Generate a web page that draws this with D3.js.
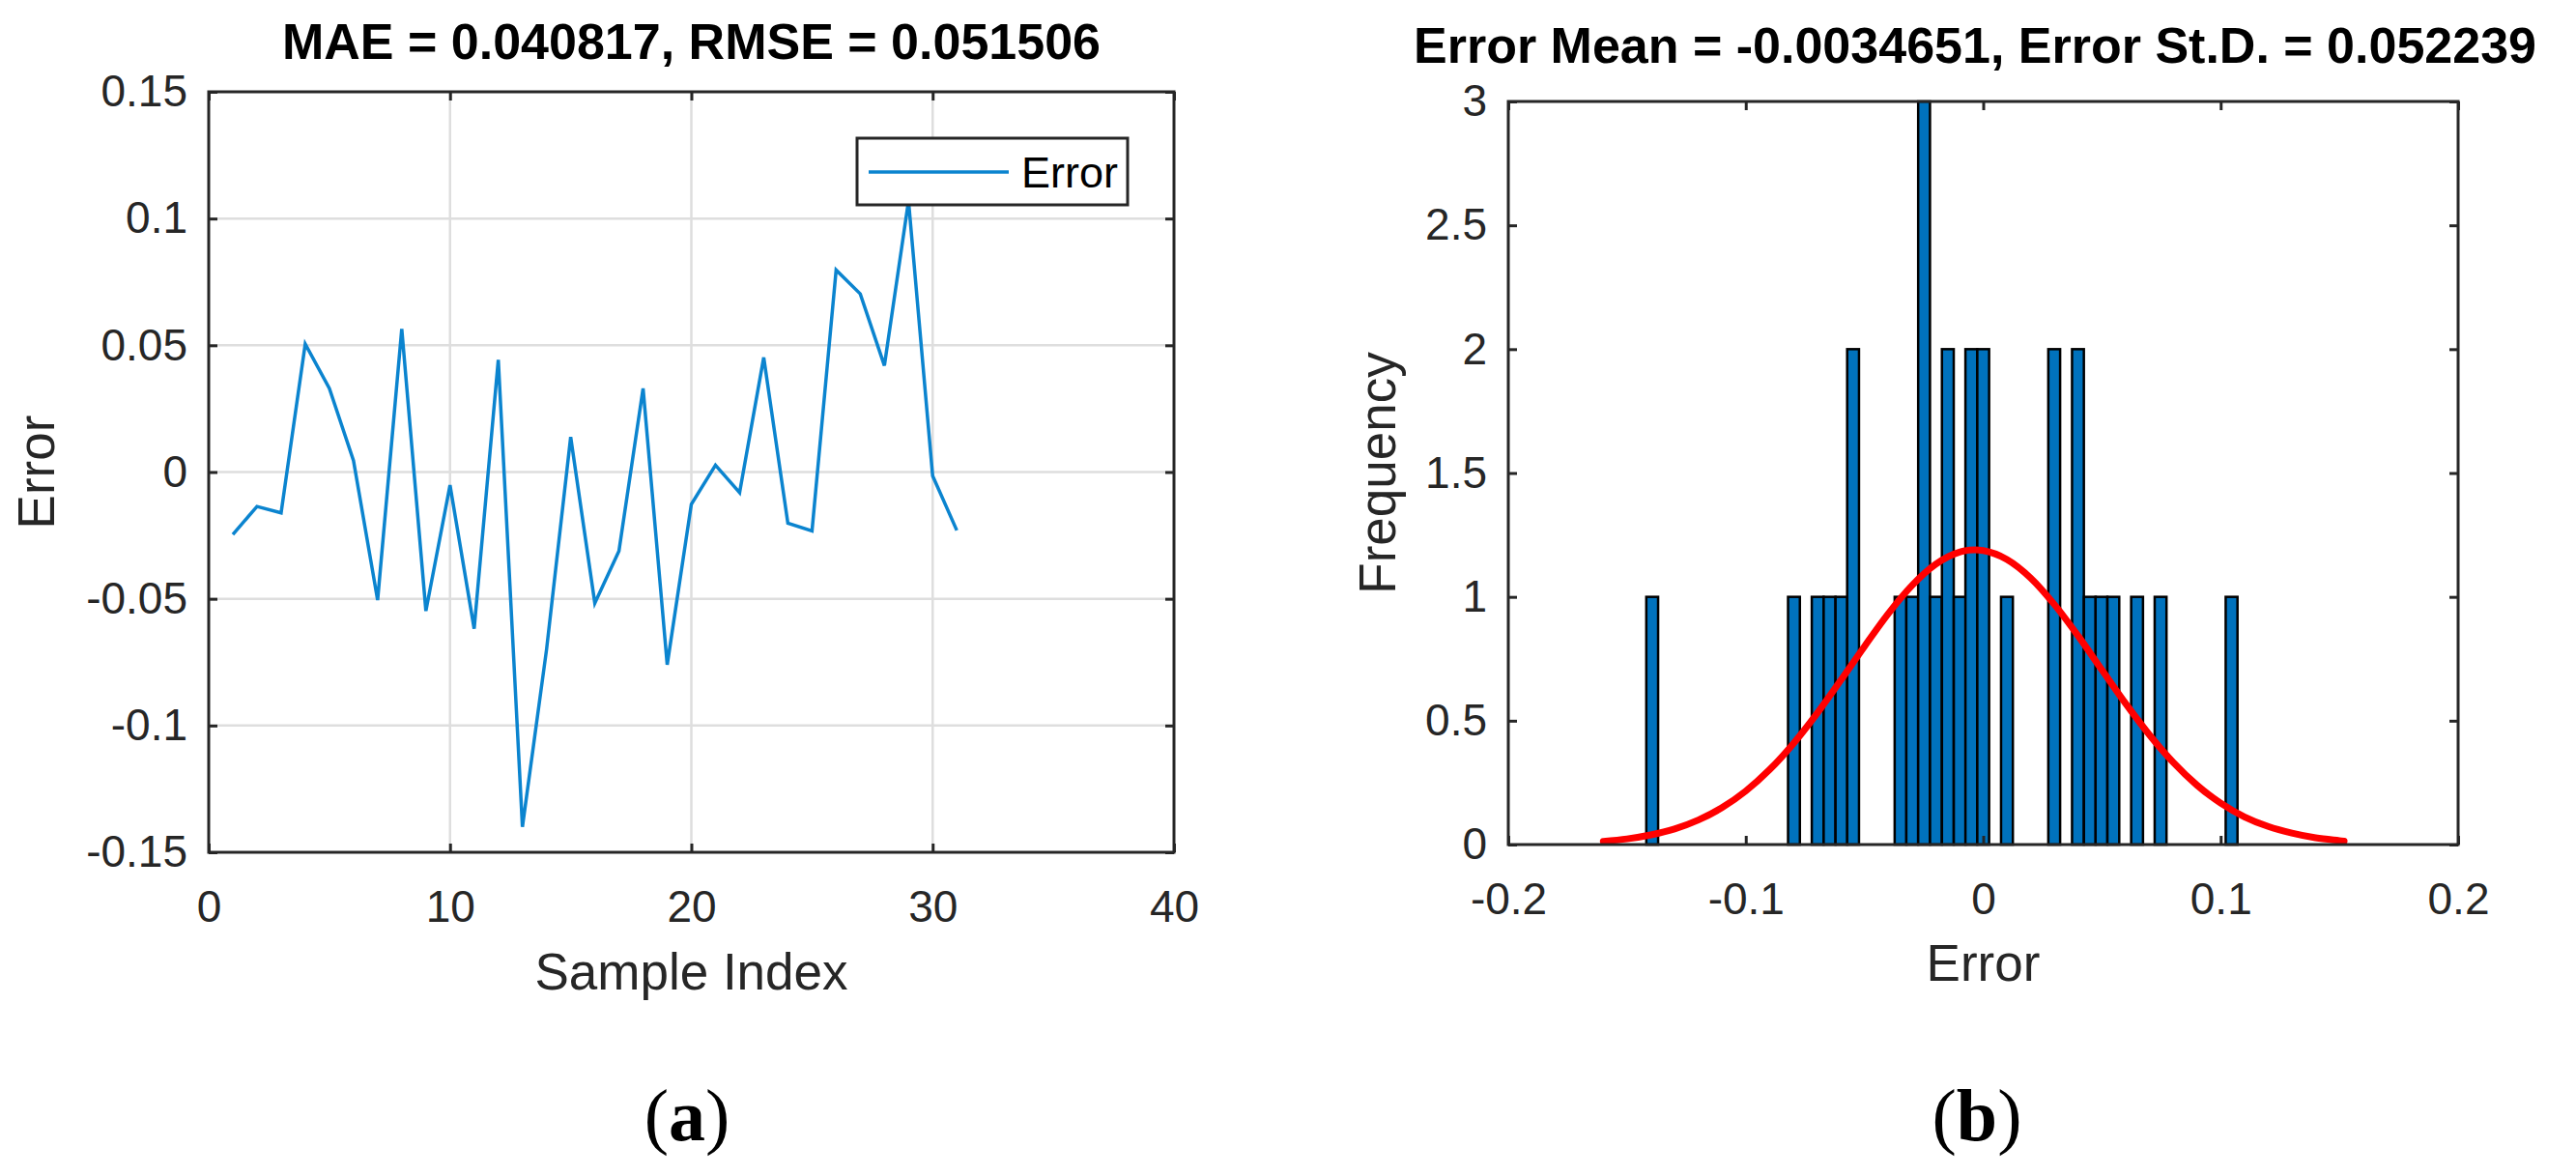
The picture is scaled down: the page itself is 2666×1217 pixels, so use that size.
<!DOCTYPE html>
<html>
<head>
<meta charset="utf-8">
<script src="https://cdn.jsdelivr.net/npm/d3@7"></script>
<style>
  body { margin: 0; background: #fff; }
  text { font-family: "Liberation Sans", Arial, sans-serif; }
</style>
</head>
<body>
<script>
// Left panel: error per sample
const sampleIndex = d3.range(1, 32);
const errorValues = [
  -0.0246, -0.0136, -0.0161, 0.0505, 0.0330, 0.0045, -0.0505, 0.0565,
  -0.0548, -0.0052, -0.0618, 0.0443, -0.1400, -0.0700, 0.0138, -0.0517,
  -0.0312, 0.0330, -0.0760, -0.0127, 0.0027, -0.0081, 0.0452, -0.0202,
  -0.0232, 0.0797, 0.0703, 0.0420, 0.1070, -0.0015, -0.0230
];
const leftXTicks = [0, 10, 20, 30, 40];
const leftYTicks = [-0.15, -0.1, -0.05, 0, 0.05, 0.1, 0.15];

// Right panel: histogram of the errors, with fitted normal curve
const binCenters = [
  -0.1394, -0.0797, -0.0697, -0.0647, -0.0597, -0.0548, -0.0348, -0.0299,
  -0.0249, -0.0199, -0.0149, -0.0099, -0.0050, 0.0000, 0.0100, 0.0299,
  0.0399, 0.0449, 0.0498, 0.0548, 0.0648, 0.0747, 0.1046
];
const binCounts = [1, 1, 1, 1, 1, 2, 1, 1, 3, 1, 2, 1, 2, 2, 1, 2, 2, 1, 1, 1, 1, 1, 1];
const binWidth = 0.00498;
const normX = [
  -0.16, -0.15, -0.14, -0.13, -0.12, -0.11, -0.10, -0.09, -0.08, -0.07, -0.06,
  -0.05, -0.04, -0.03, -0.02, -0.01, -0.0035, 0, 0.01, 0.02, 0.03, 0.04, 0.05,
  0.06, 0.07, 0.08, 0.09, 0.10, 0.11, 0.12, 0.13, 0.14, 0.15, 0.152
];
const normY = [
  0.013, 0.023, 0.039, 0.063, 0.099, 0.149, 0.216, 0.302, 0.407, 0.529, 0.663,
  0.800, 0.932, 1.046, 1.132, 1.181, 1.190, 1.187, 1.151, 1.076, 0.969, 0.842, 0.705,
  0.569, 0.443, 0.332, 0.240, 0.167, 0.112, 0.073, 0.046, 0.027, 0.016, 0.014
];
const rightXTicks = [-0.2, -0.1, 0, 0.1, 0.2];
const rightYTicks = [0, 0.5, 1, 1.5, 2, 2.5, 3];

const width = 2666, height = 1217;
const axisColor = "#262626";
const tickFont = 46, labelFont = 53, titleFont = 52;

const svg = d3.select("body").append("svg")
  .attr("width", width)
  .attr("height", height);

const fmt = d => String(Math.round(d * 100) / 100);

/**
 * Draws an axes frame with inside ticks on all four sides
 */
function drawFrame(x, y, xTicks, yTicks) {
  const [x0, x1] = x.range();
  const [y1, y0] = y.range();
  const g = svg.append("g");

  g.append("g").attr("transform", `translate(0,${y1})`)
    .call(d3.axisBottom(x).tickValues(xTicks).tickFormat(fmt).tickSizeInner(-9).tickSizeOuter(0).tickPadding(39));
  g.append("g").attr("transform", `translate(0,${y0})`)
    .call(d3.axisTop(x).tickValues(xTicks).tickFormat("").tickSizeInner(-9).tickSizeOuter(0));
  g.append("g").attr("transform", `translate(${x0},0)`)
    .call(d3.axisLeft(y).tickValues(yTicks).tickFormat(fmt).tickSizeInner(-9).tickSizeOuter(0).tickPadding(22));
  g.append("g").attr("transform", `translate(${x1},0)`)
    .call(d3.axisRight(y).tickValues(yTicks).tickFormat("").tickSizeInner(-9).tickSizeOuter(0));

  g.selectAll(".domain").remove();
  g.selectAll(".tick line").attr("stroke", axisColor).attr("stroke-width", 3);
  g.selectAll(".tick text")
    .attr("fill", axisColor)
    .style("font-size", tickFont + "px")
    .style("font-family", "'Liberation Sans', Arial, sans-serif");

  g.append("rect")
    .attr("x", x0).attr("y", y0)
    .attr("width", x1 - x0).attr("height", y1 - y0)
    .attr("fill", "none")
    .attr("stroke", axisColor)
    .attr("stroke-width", 3);
  return g;
}

// ---------- (a) error line ----------
const xL = d3.scaleLinear().domain([0, 40]).range([216, 1215]);
const yL = d3.scaleLinear().domain([-0.15, 0.15]).range([882, 95]);

const grid = svg.append("g").attr("stroke", "#dedede").attr("stroke-width", 2.5);
grid.selectAll(".gx").data(leftXTicks.slice(1, -1)).join("line")
  .attr("x1", d => xL(d)).attr("x2", d => xL(d))
  .attr("y1", yL(0.15)).attr("y2", yL(-0.15));
grid.selectAll(".gy").data(leftYTicks.slice(1, -1)).join("line")
  .attr("x1", xL(0)).attr("x2", xL(40))
  .attr("y1", d => yL(d)).attr("y2", d => yL(d));

svg.append("path")
  .datum(sampleIndex.map((s, i) => [s, errorValues[i]]))
  .attr("fill", "none")
  .attr("stroke", "#0b84cf")
  .attr("stroke-width", 3.5)
  .attr("stroke-linejoin", "miter")
  .attr("d", d3.line().x(d => xL(d[0])).y(d => yL(d[1])));

drawFrame(xL, yL, leftXTicks, leftYTicks);

// legend
const legend = svg.append("g");
legend.append("rect")
  .attr("x", 887).attr("y", 143).attr("width", 280).attr("height", 69)
  .attr("fill", "#fff").attr("stroke", axisColor).attr("stroke-width", 3);
legend.append("line")
  .attr("x1", 899).attr("x2", 1044).attr("y1", 178).attr("y2", 178)
  .attr("stroke", "#0b84cf").attr("stroke-width", 3.5);
legend.append("text")
  .attr("x", 1057).attr("y", 194)
  .style("font-size", "45px").attr("fill", "#000")
  .text("Error");

svg.append("text")
  .attr("x", (xL(0) + xL(40)) / 2).attr("y", 61)
  .attr("text-anchor", "middle")
  .style("font-size", titleFont + "px").style("font-weight", "bold")
  .text("MAE = 0.040817, RMSE = 0.051506");
svg.append("text")
  .attr("x", (xL(0) + xL(40)) / 2).attr("y", 1024)
  .attr("text-anchor", "middle").attr("fill", axisColor)
  .style("font-size", labelFont + "px")
  .text("Sample Index");
svg.append("text")
  .attr("transform", `translate(56,${(yL(0.15) + yL(-0.15)) / 2}) rotate(-90)`)
  .attr("text-anchor", "middle").attr("fill", axisColor)
  .style("font-size", labelFont + "px")
  .text("Error");

// ---------- (b) histogram ----------
const xR = d3.scaleLinear().domain([-0.2, 0.2]).range([1561, 2544]);
const yR = d3.scaleLinear().domain([0, 3]).range([874, 105]);

svg.append("g").selectAll("rect")
  .data(binCenters.map((c, i) => ({ c, n: binCounts[i] })))
  .join("rect")
  .attr("x", d => xR(d.c - binWidth / 2))
  .attr("width", d => xR(d.c + binWidth / 2) - xR(d.c - binWidth / 2))
  .attr("y", d => yR(d.n))
  .attr("height", d => yR(0) - yR(d.n))
  .attr("fill", "#0072BD")
  .attr("stroke", "#000")
  .attr("stroke-width", 2.5);

svg.append("path")
  .datum(normX.map((x, i) => [x, normY[i]]))
  .attr("fill", "none")
  .attr("stroke", "#ff0000")
  .attr("stroke-width", 7)
  .attr("stroke-linecap", "round")
  .attr("d", d3.line().curve(d3.curveMonotoneX).x(d => xR(d[0])).y(d => yR(d[1])));

drawFrame(xR, yR, rightXTicks, rightYTicks);

svg.append("text")
  .attr("x", 2044).attr("y", 65)
  .attr("text-anchor", "middle")
  .style("font-size", titleFont + "px").style("font-weight", "bold")
  .text("Error Mean = -0.0034651, Error St.D. = 0.052239");
svg.append("text")
  .attr("x", (xR(-0.2) + xR(0.2)) / 2).attr("y", 1015)
  .attr("text-anchor", "middle").attr("fill", axisColor)
  .style("font-size", labelFont + "px")
  .text("Error");
svg.append("text")
  .attr("transform", `translate(1444,${(yR(0) + yR(3)) / 2}) rotate(-90)`)
  .attr("text-anchor", "middle").attr("fill", axisColor)
  .style("font-size", labelFont + "px")
  .text("Frequency");

// ---------- panel captions ----------
function caption(x, letter) {
  const t = svg.append("text")
    .attr("x", x).attr("y", 1180)
    .attr("text-anchor", "middle")
    .style("font-family", "'Liberation Serif', 'DejaVu Serif', serif")
    .style("font-size", "76px");
  t.append("tspan").text("(");
  t.append("tspan").style("font-weight", "bold").text(letter);
  t.append("tspan").text(")");
}
caption(711, "a");
caption(2046, "b");
</script>
</body>
</html>
